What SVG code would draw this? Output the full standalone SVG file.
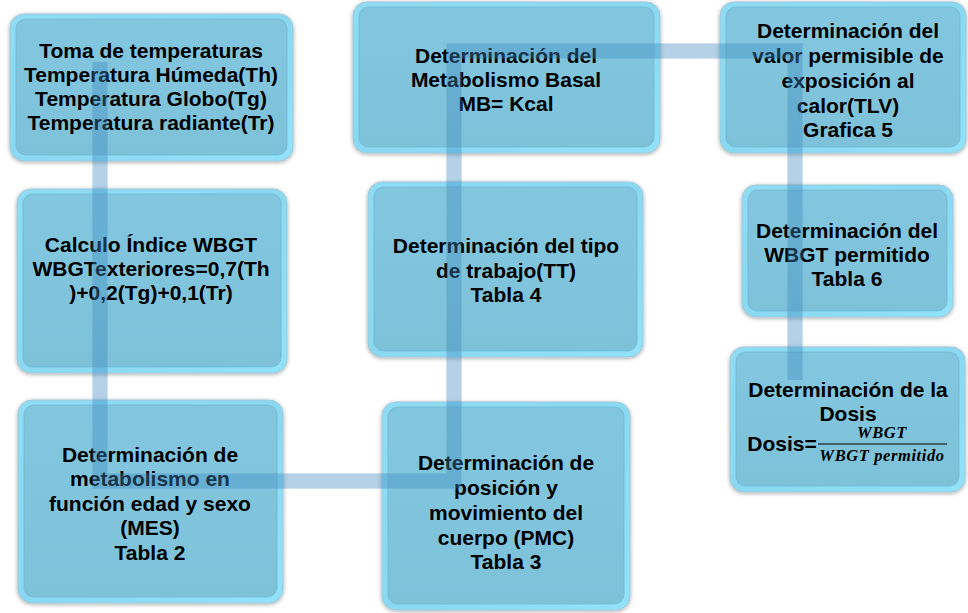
<svg xmlns="http://www.w3.org/2000/svg" width="968" height="613" viewBox="0 0 968 613">
<defs>
<linearGradient id="rim" x1="0" y1="0" x2="1" y2="1">
<stop offset="0" stop-color="#8fdcf4"/>
<stop offset="0.5" stop-color="#8ad8f2"/>
<stop offset="1" stop-color="#92e2fa"/>
</linearGradient>
<linearGradient id="face" x1="0" y1="0" x2="0" y2="1">
<stop offset="0" stop-color="#82c7df"/>
<stop offset="1" stop-color="#7ec2da"/>
</linearGradient>
<filter id="sh" x="-10%" y="-10%" width="120%" height="120%">
<feGaussianBlur in="SourceAlpha" stdDeviation="2"/>
<feOffset dx="0" dy="1" result="b"/>
<feComponentTransfer><feFuncA type="linear" slope="0.35"/></feComponentTransfer>
<feMerge><feMergeNode/><feMergeNode in="SourceGraphic"/></feMerge>
</filter>
</defs>
<style>
.rim{fill:url(#rim);stroke:#9fc9d8;stroke-width:1;filter:url(#sh)}
.face{fill:url(#face);stroke:#6fb2cb;stroke-width:1.2;stroke-opacity:0.6}
.t{font-family:"Liberation Sans",Arial,sans-serif;font-weight:bold;font-size:21px;fill:#000;text-anchor:middle}
.m{font-family:"Liberation Serif","Times New Roman",serif;font-weight:bold;font-style:italic;font-size:16.5px;fill:#000;text-anchor:middle;letter-spacing:0.6px}
.con{fill:none;stroke:#2a86c4;stroke-opacity:0.3;stroke-width:15;stroke-linejoin:miter}
.conedge{fill:none;stroke:#7f9fb5;stroke-opacity:0.12;stroke-width:16;stroke-linejoin:miter}
</style>

<g id="n1">
<rect class="rim" x="10" y="14" width="283" height="147" rx="14"/>
<rect class="face" x="16" y="19" width="271" height="136" rx="10"/>
<text class="t" x="151" y="58">Toma de temperaturas</text>
<text class="t" x="151" y="82">Temperatura Húmeda(Th)</text>
<text class="t" x="151" y="106">Temperatura Globo(Tg)</text>
<text class="t" x="151" y="130">Temperatura radiante(Tr)</text>
</g>

<g id="n2">
<rect class="rim" x="17" y="189" width="270" height="184" rx="14"/>
<rect class="face" x="23" y="194" width="258" height="173" rx="10"/>
<text class="t" x="151" y="252">Calculo Índice WBGT</text>
<text class="t" x="151" y="276">WBGTexteriores=0,7(Th</text>
<text class="t" x="151" y="300">)+0,2(Tg)+0,1(Tr)</text>
</g>

<g id="n3">
<rect class="rim" x="18" y="400" width="265" height="203" rx="14"/>
<rect class="face" x="24" y="405" width="253" height="192" rx="10"/>
<text class="t" x="150" y="462">Determinación de</text>
<text class="t" x="150" y="486">metabolismo en</text>
<text class="t" x="150" y="511">función edad y sexo</text>
<text class="t" x="150" y="535">(MES)</text>
<text class="t" x="150" y="560">Tabla 2</text>
</g>

<g id="n4">
<rect class="rim" x="353" y="2" width="307" height="151" rx="14"/>
<rect class="face" x="359" y="7" width="295" height="140" rx="10"/>
<text class="t" x="506" y="63">Determinación del</text>
<text class="t" x="506" y="87">Metabolismo Basal</text>
<text class="t" x="506" y="111">MB= Kcal</text>
</g>

<g id="n5">
<rect class="rim" x="368" y="182" width="275" height="175" rx="14"/>
<rect class="face" x="374" y="187" width="263" height="164" rx="10"/>
<text class="t" x="506" y="253">Determinación del tipo</text>
<text class="t" x="506" y="278">de trabajo(TT)</text>
<text class="t" x="506" y="302">Tabla 4</text>
</g>

<g id="n6">
<rect class="rim" x="382" y="402" width="248" height="208" rx="14"/>
<rect class="face" x="388" y="407" width="236" height="197" rx="10"/>
<text class="t" x="506" y="470">Determinación de</text>
<text class="t" x="506" y="495">posición y</text>
<text class="t" x="506" y="520">movimiento del</text>
<text class="t" x="506" y="545">cuerpo (PMC)</text>
<text class="t" x="506" y="569">Tabla 3</text>
</g>

<g id="n7">
<rect class="rim" x="720" y="2" width="246" height="151" rx="14"/>
<rect class="face" x="726" y="7" width="234" height="140" rx="10"/>
<text class="t" x="848" y="38">Determinación del</text>
<text class="t" x="848" y="63">valor permisible de</text>
<text class="t" x="848" y="88">exposición al</text>
<text class="t" x="848" y="113">calor(TLV)</text>
<text class="t" x="848" y="137">Grafica 5</text>
</g>

<g id="n8">
<rect class="rim" x="742" y="185" width="211" height="132" rx="14"/>
<rect class="face" x="748" y="190" width="199" height="121" rx="10"/>
<text class="t" x="847" y="238">Determinación del</text>
<text class="t" x="847" y="262">WBGT permitido</text>
<text class="t" x="847" y="286">Tabla 6</text>
</g>

<g id="n9">
<rect class="rim" x="730" y="347" width="235" height="145" rx="14"/>
<rect class="face" x="736" y="352" width="223" height="134" rx="10"/>
<text class="t" x="848" y="397">Determinación de la</text>
<text class="t" x="848" y="421">Dosis</text>
<text class="t" x="782" y="451">Dosis=</text>
<text class="m" x="882" y="438">WBGT</text>
<line x1="818" y1="444" x2="947" y2="444" stroke="#000" stroke-width="1.2"/>
<text class="m" x="882" y="461">WBGT permitido</text>
</g>

<g id="connectors">
<path class="conedge" d="M100,62 V481 H454 V51 H795 V380"/>
<path class="con" d="M100,62 V481 H454 V51 H795 V380"/>
</g>
</svg>
